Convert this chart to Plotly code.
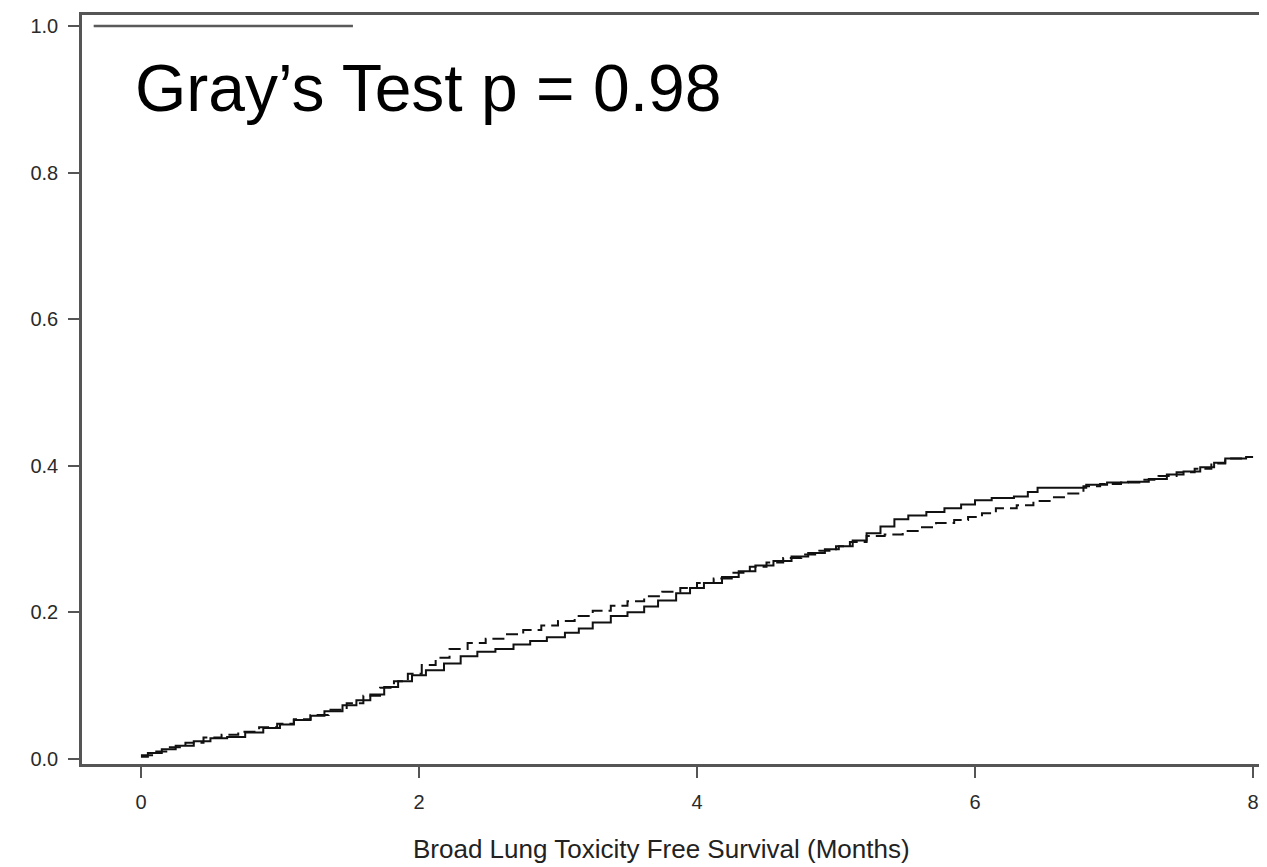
import plotly.graph_objects as go

# Solid curve (group 1) – cumulative incidence step points
solid_t = [0.00, 0.05, 0.15, 0.25, 0.38, 0.50, 0.62, 0.75, 0.88, 1.00, 1.10, 1.22, 1.32, 1.45,
           1.55, 1.65, 1.75, 1.85, 1.95, 2.05, 2.18, 2.30, 2.42, 2.55, 2.68, 2.80, 2.92, 3.05,
           3.15, 3.25, 3.38, 3.50, 3.62, 3.72, 3.85, 3.95, 4.05, 4.18, 4.30, 4.42, 4.55, 4.68,
           4.80, 4.92, 5.02, 5.12, 5.22, 5.32, 5.42, 5.52, 5.65, 5.78, 5.90, 6.00, 6.12, 6.28,
           6.38, 6.45, 6.60, 6.72, 6.80, 6.95, 7.10, 7.25, 7.38, 7.50, 7.62, 7.72, 7.80, 7.95, 8.00]
solid_y = [0.003, 0.008, 0.013, 0.018, 0.024, 0.028, 0.030, 0.036, 0.042, 0.047, 0.053, 0.059, 0.065, 0.073,
           0.080, 0.088, 0.098, 0.106, 0.114, 0.121, 0.130, 0.140, 0.146, 0.150, 0.156, 0.161, 0.166, 0.172,
           0.178, 0.186, 0.195, 0.200, 0.208, 0.216, 0.226, 0.233, 0.240, 0.248, 0.256, 0.264, 0.270, 0.276,
           0.281, 0.286, 0.290, 0.298, 0.308, 0.317, 0.327, 0.332, 0.337, 0.342, 0.347, 0.353, 0.356, 0.358,
           0.364, 0.370, 0.370, 0.370, 0.374, 0.377, 0.378, 0.382, 0.388, 0.392, 0.398, 0.404, 0.410, 0.412, 0.412]

# Dashed curve (group 2)
dash_t = [0.00, 0.08, 0.20, 0.32, 0.45, 0.58, 0.70, 0.85, 0.98, 1.10, 1.22, 1.35, 1.48, 1.60,
          1.72, 1.82, 1.92, 2.02, 2.12, 2.22, 2.35, 2.48, 2.62, 2.75, 2.88, 3.00, 3.12, 3.25,
          3.38, 3.50, 3.62, 3.75, 3.88, 4.00, 4.12, 4.25, 4.38, 4.50, 4.62, 4.75, 4.88, 5.00,
          5.10, 5.22, 5.35, 5.48, 5.60, 5.72, 5.85, 5.95, 6.05, 6.15, 6.30, 6.42, 6.55, 6.65,
          6.78, 6.90, 7.05, 7.20, 7.32, 7.45, 7.58, 7.70, 7.80, 7.95, 8.00]
dash_y = [0.005, 0.010, 0.016, 0.022, 0.029, 0.033, 0.037, 0.043, 0.048, 0.054, 0.060, 0.067, 0.076, 0.086,
          0.097, 0.106, 0.116, 0.128, 0.138, 0.150, 0.158, 0.164, 0.170, 0.176, 0.182, 0.188, 0.195, 0.202,
          0.209, 0.215, 0.222, 0.228, 0.233, 0.240, 0.246, 0.254, 0.262, 0.268, 0.274, 0.279, 0.284, 0.290,
          0.296, 0.304, 0.306, 0.311, 0.316, 0.322, 0.326, 0.330, 0.335, 0.342, 0.346, 0.352, 0.357, 0.362,
          0.372, 0.375, 0.377, 0.381, 0.386, 0.391, 0.396, 0.403, 0.410, 0.412, 0.412]

# Stray legend-like line at the top
top_line_x = [-0.34, 1.525]
top_line_y = [1.0, 1.0]

x_ticks = [0, 2, 4, 6, 8]
y_ticks = [0.0, 0.2, 0.4, 0.6, 0.8, 1.0]
y_tick_labels = ["0.0", "0.2", "0.4", "0.6", "0.8", "1.0"]

annot_text = "Gray’s Test p = 0.98"
x_title = "Broad Lung Toxicity Free Survival (Months)"

fig = go.Figure()
fig.add_trace(go.Scatter(x=top_line_x, y=top_line_y, mode="lines",
                         line=dict(color="#5a5a5a", width=2.5), showlegend=False, hoverinfo="skip"))
fig.add_trace(go.Scatter(x=dash_t, y=dash_y, mode="lines", line_shape="hv",
                         line=dict(color="#111111", width=2, dash="12px,6px"), showlegend=False))
fig.add_trace(go.Scatter(x=solid_t, y=solid_y, mode="lines", line_shape="hv",
                         line=dict(color="#111111", width=2), showlegend=False))

font_family = "Liberation Sans, Arial, sans-serif"

fig.update_layout(
    width=1261, height=859,
    margin=dict(l=74, r=1, t=7, b=103),
    paper_bgcolor="white", plot_bgcolor="white",
    font=dict(family=font_family, color="#333333"),
    xaxis=dict(range=[-0.424, 8.086], tickvals=x_ticks, ticktext=[str(v) for v in x_ticks],
               showgrid=False, zeroline=False, showline=True, mirror=True,
               linecolor="#555555", linewidth=2.5, ticks="outside", ticklen=11,
               tickwidth=2, tickcolor="#555555", ticklabelstandoff=7,
               tickfont=dict(size=20, color="#2a2a2a")),
    yaxis=dict(range=[-0.007, 1.015], tickvals=y_ticks, ticktext=y_tick_labels,
               showgrid=False, zeroline=False, showline=True, mirror=True,
               linecolor="#555555", linewidth=2.5, ticks="outside", ticklen=11,
               tickwidth=2, tickcolor="#555555", ticklabelstandoff=6,
               tickfont=dict(size=20, color="#2a2a2a")),
    annotations=[
        dict(text=annot_text, xref="paper", yref="paper", x=0.043, y=0.903,
             xanchor="left", yanchor="middle", showarrow=False,
             font=dict(size=66, color="#000000", family=font_family)),
        dict(text=x_title, xref="paper", yref="paper", x=0.490, y=-0.113,
             xanchor="center", yanchor="middle", showarrow=False,
             font=dict(size=26, color="#222222", family=font_family)),
    ],
)

fig.write_html("out.html")
